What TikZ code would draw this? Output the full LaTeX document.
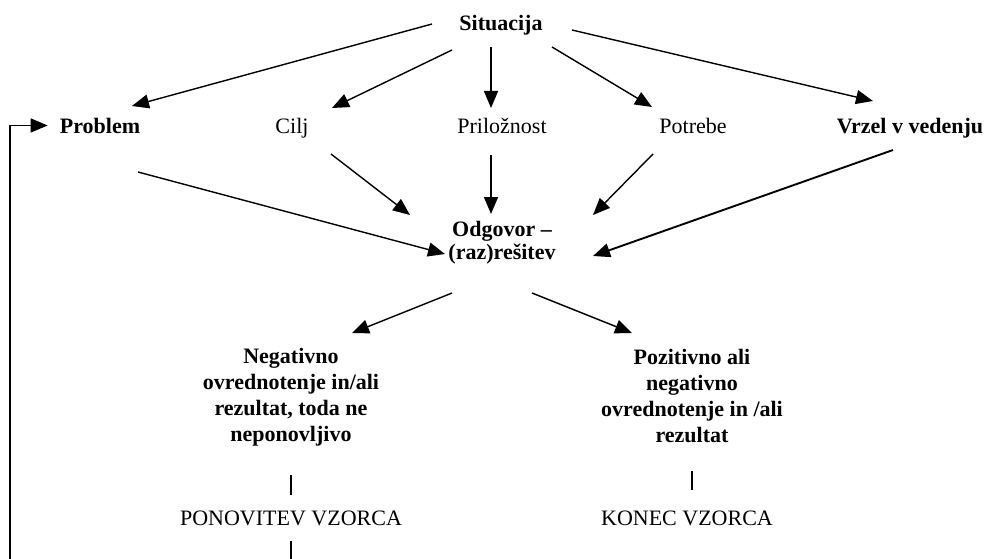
\documentclass[tikz,border=0pt]{standalone}
\usepackage{fontspec}
\setmainfont{Liberation Serif}
\usetikzlibrary{arrows.meta}
\begin{document}
\begin{tikzpicture}[x=1pt,y=-1pt,
  lbl/.style={inner sep=0pt, font=\fontsize{22}{26}\selectfont, anchor=base},
  blbl/.style={inner sep=0pt, font=\fontsize{22}{26}\selectfont\bfseries, anchor=base},
  blk/.style={inner sep=0pt, align=center, anchor=north, font=\fontsize{22}{26}\selectfont\bfseries},
  arr/.style={line width=1.4pt, -{Triangle[length=17pt,width=14pt]}},
  tickline/.style={line width=1.2pt}]
\useasboundingbox (0,0) rectangle (987,559);
% nodes
\node[blbl] (sit) at (501,31) {Situacija};
\node[blbl] (prob) at (100,133) {Problem};
\node[lbl] (cilj) at (292,133) {Cilj};
\node[lbl] (pril) at (502,133) {Priložnost};
\node[lbl] (potr) at (693,133) {Potrebe};
\node[blbl] (vrz) at (910,133) {Vrzel v vedenju};
\node[blk, font=\fontsize{22}{23}\selectfont\bfseries] (odg) at (502,221) {Odgovor –\\(raz)rešitev};
\node[blk] (neg) at (291,348) {Negativno\\ovrednotenje in/ali\\rezultat, toda ne\\neponovljivo};
\node[blk] (poz) at (692,349) {Pozitivno ali\\negativno\\ovrednotenje in /ali\\rezultat};
\node[lbl] (pon) at (291,525) {PONOVITEV VZORCA};
\node[lbl] (kon) at (687,525) {KONEC VZORCA};
% arrow end points
\coordinate (s1) at (432,24);  \coordinate (e1) at (132,106);
\coordinate (s2) at (452,50);  \coordinate (e2) at (332,108);
\coordinate (s3) at (491,47);  \coordinate (e3) at (491,108);
\coordinate (s4) at (552,47);  \coordinate (e4) at (652,107);
\coordinate (s5) at (572,30);  \coordinate (e5) at (873,101);
\coordinate (s6) at (138,172); \coordinate (e6) at (445,254);
\coordinate (s7) at (331,154); \coordinate (e7) at (410,215);
\coordinate (s8) at (491,155); \coordinate (e8) at (491,214);
\coordinate (s9) at (653,154); \coordinate (e9) at (593,215);
\coordinate (s10) at (893,150); \coordinate (e10) at (593,256);
\coordinate (s11) at (452,293); \coordinate (e11) at (352,333);
\coordinate (s12) at (532,293); \coordinate (e12) at (632,333);
\coordinate (loop) at (10,559);
\coordinate (bot) at (291,559);
% arrows
\draw[arr] (s1) -- (e1);
\draw[arr] (s2) -- (e2);
\draw[arr] (s3) -- (e3);
\draw[arr] (s4) -- (e4);
\draw[arr] (s5) -- (e5);
\draw[arr] (s6) -- (e6);
\draw[arr] (s7) -- (e7);
\draw[arr] (s8) -- (e8);
\draw[arr] (s9) -- (e9);
\draw[arr, line width=1.9pt] (s10) -- (e10);
\draw[arr] (s11) -- (e11);
\draw[arr] (s12) -- (e12);
% loop back
\draw[arr] (loop) |- (prob.west) [shorten >=12pt];
% ticks
\draw[tickline, shorten <=29pt, shorten >=15pt] (neg.south) -- (pon.north);
\draw[tickline, shorten <=28pt, shorten >=20pt] (poz.south) -- (poz.south |- kon.north);
\draw[tickline, shorten <=15pt] (pon.south) -- (bot);
\end{tikzpicture}
\end{document}
